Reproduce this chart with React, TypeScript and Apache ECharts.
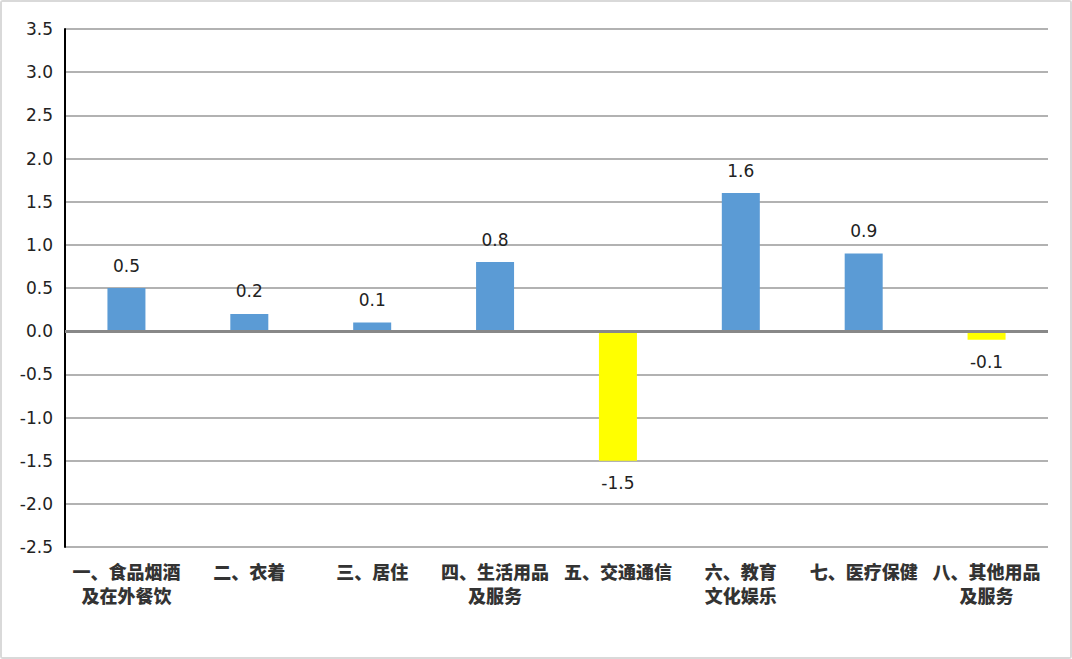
import React, { useEffect, useRef } from "react";
import * as echarts from "echarts";

const categories = [
  "一、食品烟酒\n及在外餐饮",
  "二、衣着",
  "三、居住",
  "四、生活用品\n及服务",
  "五、交通通信",
  "六、教育\n文化娱乐",
  "七、医疗保健",
  "八、其他用品\n及服务",
];
const values = [0.5, 0.2, 0.1, 0.8, -1.5, 1.6, 0.9, -0.1];
const positiveColor = "#5B9BD5";
const negativeColor = "#FFFF00";

export default function App() {
  const ref = useRef<HTMLDivElement>(null);
  useEffect(() => {
    if (!ref.current) return;
    const chart = echarts.init(ref.current, undefined, { renderer: "svg" });
    chart.setOption({
      animation: false,
      backgroundColor: "#fff",
      grid: { left: 63, right: 22, top: 27, bottom: 110, containLabel: false },
      xAxis: {
        type: "category",
        data: categories,
        axisLine: { show: false },
        axisTick: { show: false },
        axisLabel: {
          interval: 0,
          margin: 12,
          fontFamily: "Noto Sans CJK SC",
          fontWeight: 900,
          fontSize: 18,
          color: "#333",
          lineHeight: 24,
        },
      },
      yAxis: {
        type: "value",
        min: -2.5,
        max: 3.5,
        interval: 0.5,
        axisLine: { show: true, lineStyle: { color: "#000", width: 2 } },
        axisTick: { show: false },
        axisLabel: {
          formatter: (v: number) => v.toFixed(1),
          fontFamily: "DejaVu Sans",
          fontSize: 17,
          color: "#222",
          margin: 12,
        },
        splitLine: { lineStyle: { color: "#999", width: 1.5 } },
      },
      series: [
        {
          type: "bar",
          data: values.map((v) => ({
            value: v,
            itemStyle: { color: v >= 0 ? positiveColor : negativeColor },
            label: { position: v >= 0 ? "top" : "bottom", distance: 14 },
          })),
          barWidth: 38,
          label: {
            show: true,
            formatter: (p: any) => p.value.toFixed(1),
            fontFamily: "DejaVu Sans",
            fontSize: 17,
            color: "#222",
          },
          markLine: {
            silent: true,
            symbol: "none",
            label: { show: false },
            lineStyle: { color: "#888", width: 3, type: "solid" },
            data: [{ yAxis: 0 }],
          },
        },
      ],
    });
    return () => chart.dispose();
  }, []);
  return (
    <div
      style={{
        position: "fixed",
        left: 0,
        top: 0,
        width: 1072,
        height: 659,
        boxSizing: "border-box",
        border: "2px solid #d9d9d9",
        borderRadius: 3,
        background: "#fff",
      }}
    >
      <div ref={ref} style={{ width: 1068, height: 655 }} />
    </div>
  );
}
